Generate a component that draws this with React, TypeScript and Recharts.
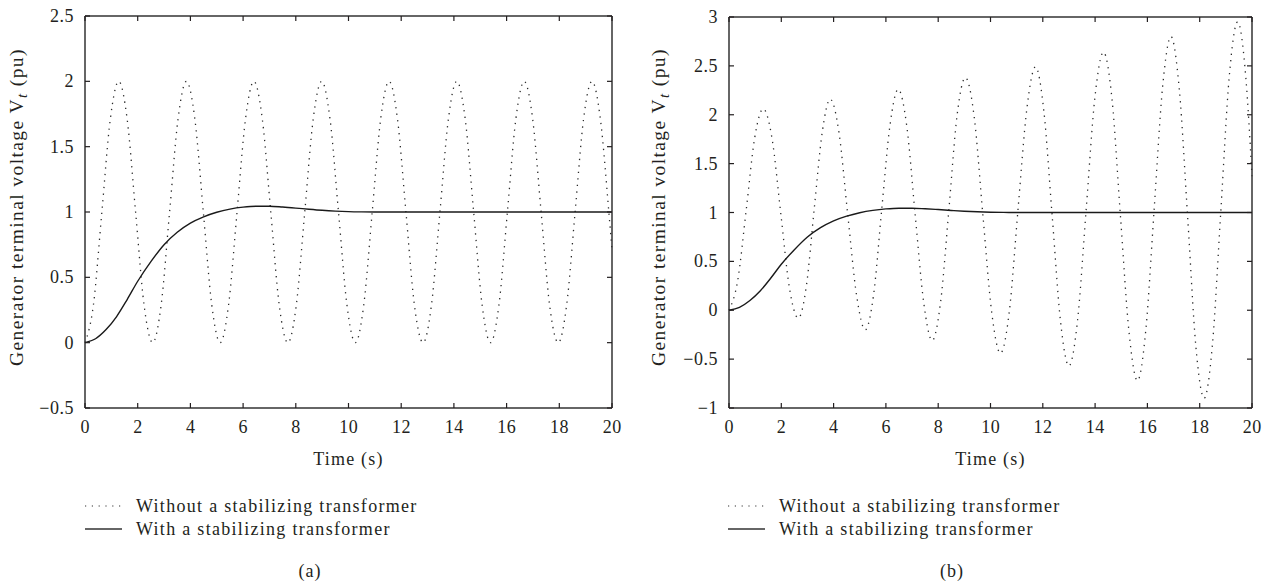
import { Line, LineChart, XAxis, YAxis } from "recharts";

const FONT = "'Liberation Serif', 'Times New Roman', serif";
const INK = "#231f20";

// time axis
const xTicks = [0, 2, 4, 6, 8, 10, 12, 14, 16, 18, 20];
const yTicksA = [-0.5, 0, 0.5, 1, 1.5, 2, 2.5];
const yTicksB = [-1, -0.5, 0, 0.5, 1, 1.5, 2, 2.5, 3];

// (a) without a stabilizing transformer
const dotTimeA = [
  0, 0.32, 0.64, 0.96, 1.28, 1.6, 1.92, 2.24, 2.57, 2.89, 3.21, 3.53, 3.85, 4.17, 4.49, 4.81,
  5.13, 5.45, 5.77, 6.09, 6.41, 6.73, 7.05, 7.37, 7.7, 8.02, 8.34, 8.66, 8.98, 9.3, 9.62, 9.94,
  10.26, 10.58, 10.9, 11.22, 11.54, 11.86, 12.18, 12.5, 12.83, 13.15, 13.47, 13.79, 14.11, 14.43,
  14.75, 15.07, 15.39, 15.71, 16.03, 16.35, 16.67, 16.99, 17.31, 17.63, 17.96, 18.28, 18.6,
  18.92, 19.24, 19.56, 19.88, 20,
];
const dotValueA = [
  0, 0.29, 1, 1.71, 2, 1.71, 1, 0.29, 0, 0.29, 1, 1.71, 2, 1.71, 1, 0.29,
  0, 0.29, 1, 1.71, 2, 1.71, 1, 0.29, 0, 0.29, 1, 1.71, 2, 1.71, 1, 0.29,
  0, 0.29, 1, 1.71, 2, 1.71, 1, 0.29, 0, 0.29, 1, 1.71, 2, 1.71, 1, 0.29,
  0, 0.29, 1, 1.71, 2, 1.71, 1, 0.29, 0, 0.29, 1, 1.71, 2, 1.71, 1.0, 0.71,
];

// (b) without a stabilizing transformer (growing oscillation)
const dotTimeB = [
  0, 0.33, 0.66, 0.98, 1.31, 1.65, 1.98, 2.31, 2.65, 2.96, 3.26, 3.57, 3.87, 4.21, 4.54, 4.88,
  5.21, 5.53, 5.84, 6.16, 6.47, 6.8, 7.12, 7.45, 7.77, 8.09, 8.41, 8.72, 9.04, 9.38, 9.71, 10.05,
  10.38, 10.72, 11.05, 11.39, 11.72, 12.04, 12.36, 12.68, 13.0, 13.33, 13.66, 13.99, 14.32, 14.65,
  14.97, 15.3, 15.62, 15.94, 16.26, 16.58, 16.9, 17.22, 17.54, 17.85, 18.17, 18.49, 18.81, 19.13,
  19.45, 19.77, 20,
];
const dotValueB = [
  0, 0.3, 1.03, 1.76, 2.06, 1.75, 0.99, 0.23, -0.08, 0.25, 1.04, 1.83, 2.16, 1.81, 0.98, 0.15,
  -0.2, 0.16, 1.03, 1.9, 2.26, 1.88, 0.975, 0.07, -0.31, 0.08, 1.035, 1.99, 2.38, 1.97, 0.97, -0.03,
  -0.44, -0.01, 1.025, 2.06, 2.49, 2.04, 0.96, -0.12, -0.57, -0.1, 1.035, 2.17, 2.64, 2.15, 0.96,
  -0.23, -0.72, -0.2, 1.04, 2.28, 2.8, 2.26, 0.95, -0.36, -0.9, -0.34, 1.025, 2.39, 2.95, 2.36, 1.37,
];

// with a stabilizing transformer (same in both panels)
const solidTime = [
  0, 0.4, 0.8, 1.2, 1.6, 2.0, 2.5, 3.0, 3.5, 4.0, 4.5, 5.0, 5.5, 6.0, 6.5, 7.0, 7.5, 8.0, 8.5,
  9.0, 9.5, 10.0, 10.5, 11, 12, 14, 16, 18, 20,
];
const solidValue = [
  0, 0.03, 0.1, 0.2, 0.33, 0.47, 0.62, 0.75, 0.845, 0.915, 0.963, 0.998, 1.022, 1.037, 1.044,
  1.044, 1.038, 1.03, 1.021, 1.013, 1.007, 1.003, 1.001, 1.0, 1.0, 1.0, 1.0, 1.0, 1.0,
];

const seriesNames = ["Without a stabilizing transformer", "With a stabilizing transformer"];

const zip = (ts: number[], vs: number[]) => ts.map((t, i) => ({ t, v: vs[i] }));

const fmt = (v: number) => (v < 0 ? `\u2212${Math.abs(v)}` : `${v}`);

const TICK = 5;

const BottomTick = ({ x, y, payload }: any) => (
  <g>
    <line x1={x} x2={x} y1={y} y2={y - TICK} stroke={INK} strokeWidth={1.2} />
    <text
      x={x + 0.25}
      y={y + 25}
      textAnchor="middle"
      fontFamily={FONT}
      fontSize={18}
      letterSpacing={0.5}
      fill={INK}
    >
      {fmt(payload.value)}
    </text>
  </g>
);
const TopTick = ({ x, y }: any) => (
  <line x1={x} x2={x} y1={y} y2={y + TICK} stroke={INK} strokeWidth={1.2} />
);
const LeftTick = ({ x, y, payload }: any) => (
  <g>
    <line x1={x} x2={x + TICK} y1={y} y2={y} stroke={INK} strokeWidth={1.2} />
    <text
      x={x - 11}
      y={y + 6}
      textAnchor="end"
      fontFamily={FONT}
      fontSize={18}
      letterSpacing={0.5}
      fill={INK}
    >
      {fmt(payload.value)}
    </text>
  </g>
);
const RightTick = ({ x, y }: any) => (
  <line x1={x} x2={x - TICK} y1={y} y2={y} stroke={INK} strokeWidth={1.2} />
);

const yTitle = (cx: number, cy: number) => () => (
  <text
    x={cx}
    y={cy}
    transform={`rotate(-90 ${cx} ${cy})`}
    textAnchor="middle"
    fontFamily={FONT}
    fontSize={19.5}
    letterSpacing={1.4}
    fill={INK}
  >
    Generator terminal voltage V
    <tspan fontStyle="italic" fontSize={15} dy={4}>
      t
    </tspan>
    <tspan dy={-4}> (pu)</tspan>
  </text>
);

const axisLine = { stroke: "#333", strokeWidth: 1.5 };

type PanelProps = {
  left: number;
  width: number;
  margin: { top: number; right: number; bottom: number; left: number };
  yAxisWidth: number;
  yDomain: [number, number];
  yTicks: number[];
  dots: { t: number; v: number }[];
  titleX: number;
};

function Panel({ left, width, margin, yAxisWidth, yDomain, yTicks, dots, titleX }: PanelProps) {
  const solid = zip(solidTime, solidValue);
  const plotCenter = margin.left + yAxisWidth + (width - margin.left - yAxisWidth - margin.right - 1) / 2;
  return (
    <div style={{ position: "absolute", left, top: 0 }}>
      <LineChart width={width} height={584} margin={margin}>
        <XAxis
          xAxisId="b"
          dataKey="t"
          type="number"
          domain={[0, 20]}
          ticks={xTicks}
          orientation="bottom"
          height={60}
          tickSize={0}
          tickMargin={0}
          tickLine={false}
          axisLine={axisLine}
          tick={BottomTick}
          interval={0}
          label={() => (
            <text
              x={plotCenter}
              y={465}
              textAnchor="middle"
              fontFamily={FONT}
              fontSize={18}
              letterSpacing={1.2}
              fill={INK}
            >
              Time (s)
            </text>
          )}
        />
        <XAxis
          xAxisId="t"
          dataKey="t"
          type="number"
          domain={[0, 20]}
          ticks={xTicks}
          orientation="top"
          height={1}
          tickSize={0}
          tickMargin={0}
          tickLine={false}
          axisLine={axisLine}
          tick={TopTick}
          interval={0}
        />
        <YAxis
          yAxisId="l"
          type="number"
          domain={yDomain}
          ticks={yTicks}
          width={yAxisWidth}
          tickSize={0}
          tickMargin={0}
          tickLine={false}
          axisLine={axisLine}
          tick={LeftTick}
          interval={0}
          label={yTitle(titleX, 207)}
        />
        <YAxis
          yAxisId="r"
          orientation="right"
          type="number"
          domain={yDomain}
          ticks={yTicks}
          width={1}
          tickSize={0}
          tickMargin={0}
          tickLine={false}
          axisLine={axisLine}
          tick={RightTick}
          interval={0}
        />
        <Line
          xAxisId="t"
          yAxisId="r"
          data={solid}
          dataKey="v"
          stroke="none"
          dot={false}
          legendType="none"
          isAnimationActive={false}
        />
        <Line
          xAxisId="b"
          yAxisId="l"
          data={dots}
          dataKey="v"
          type="monotone"
          stroke="#2a2a2a"
          strokeWidth={1.3}
          strokeDasharray="1.3 5.2"
          dot={false}
          isAnimationActive={false}
        />
        <Line
          xAxisId="b"
          yAxisId="l"
          data={solid}
          dataKey="v"
          type="monotone"
          stroke="#1a1a1a"
          strokeWidth={1.4}
          dot={false}
          isAnimationActive={false}
        />
      </LineChart>
    </div>
  );
}

function LegendBlock({ x, y }: { x: number; y: number }) {
  const row = (i: number) => (
    <div key={i} style={{ position: "absolute", left: 0, top: i * 23, height: 20, whiteSpace: "nowrap" }}>
      <svg width={40} height={20} style={{ position: "absolute", left: 0, top: 0 }}>
        <line
          x1={0}
          x2={37}
          y1={10}
          y2={10}
          stroke="#333"
          strokeWidth={i === 0 ? 1.2 : 1.6}
          strokeDasharray={i === 0 ? "1.2 5.6" : undefined}
        />
      </svg>
      <span
        style={{
          position: "absolute",
          left: 51,
          top: 0,
          fontFamily: FONT,
          fontSize: 18,
          letterSpacing: 1.3,
          lineHeight: "20px",
          color: INK,
        }}
      >
        {seriesNames[i]}
      </span>
    </div>
  );
  return <div style={{ position: "absolute", left: x, top: y }}>{[0, 1].map(row)}</div>;
}

const caption = (text: string, cx: number) => (
  <div
    style={{
      position: "absolute",
      left: cx - 30,
      width: 60,
      top: 561,
      textAlign: "center",
      fontFamily: FONT,
      fontSize: 18,
      letterSpacing: 1,
      lineHeight: "20px",
      color: INK,
    }}
  >
    {text}
  </div>
);

export default function App() {
  return (
    <div style={{ position: "absolute", left: 0, top: 0, width: 1270, height: 584, background: "#fff" }}>
      <Panel
        left={0}
        width={640}
        margin={{ top: 15, right: 27, bottom: 116, left: 0 }}
        yAxisWidth={85}
        yDomain={[-0.5, 2.5]}
        yTicks={yTicksA}
        dots={zip(dotTimeA, dotValueA)}
        titleX={23}
      />
      <Panel
        left={640}
        width={630}
        margin={{ top: 16, right: 17, bottom: 116, left: 0 }}
        yAxisWidth={89}
        yDomain={[-1, 3]}
        yTicks={yTicksB}
        dots={zip(dotTimeB, dotValueB)}
        titleX={25}
      />
      <LegendBlock x={85} y={496} />
      <LegendBlock x={728} y={496} />
      {caption("(a)", 310)}
      {caption("(b)", 952)}
    </div>
  );
}
